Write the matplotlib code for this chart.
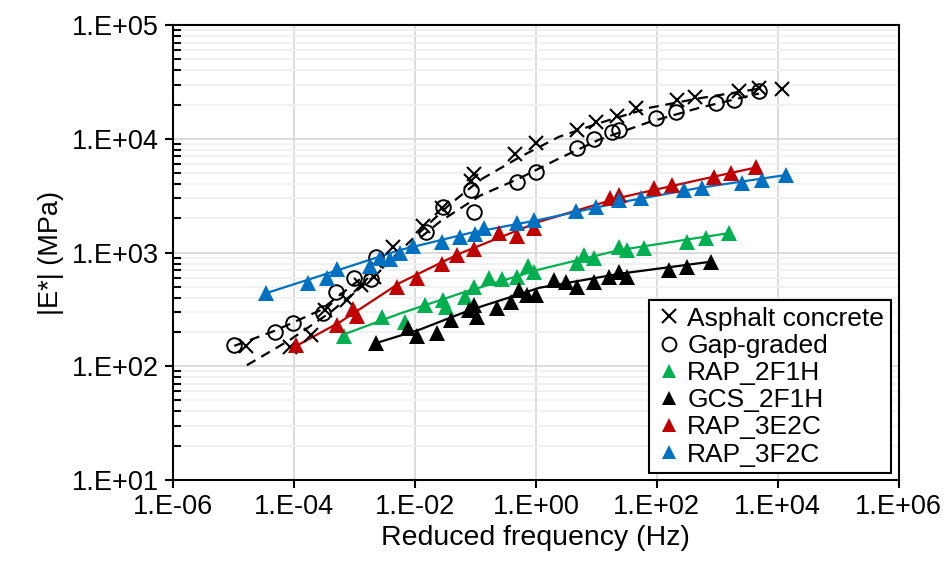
import numpy as np
import matplotlib
matplotlib.use('Agg')
import matplotlib.pyplot as plt
from matplotlib.ticker import FixedLocator, FuncFormatter, LogLocator, NullFormatter

plt.rcParams['font.family'] = ['Liberation Sans', 'DejaVu Sans']

# ---- measured points ----
ac_f = [1.6e-5, 8.5e-5, 1.9e-4, 3.2e-4, 7.4e-4, 1.3e-3, 2.1e-3, 4.3e-3, 0.0135, 0.028,
        0.086, 0.095, 0.46, 1.0, 4.8, 10, 22, 45, 215, 430, 2300, 4900, 11700]
ac_E = [151, 148, 190, 310, 380, 515, 605, 1120, 1700, 2450,
        4250, 4900, 7400, 9100, 12000, 14000, 16000, 18700, 21900, 23400, 26300, 28000, 27600]

gg_f = [1.0e-5, 4.8e-5, 9.5e-5, 3.0e-4, 4.9e-4, 9.8e-4, 1.9e-3, 2.3e-3, 0.0155, 0.029,
        0.085, 0.096, 0.49, 1.0, 4.8, 9.1, 18, 24, 98, 210, 960, 1900, 4900]
gg_E = [155, 200, 240, 295, 450, 600, 590, 910, 1520, 2500,
        3550, 2270, 4150, 5100, 8300, 10000, 11500, 12000, 15100, 17300, 20500, 21800, 26300]

r2f_f = [6.6e-4, 2.9e-3, 6.8e-3, 0.0145, 0.029, 0.033, 0.066, 0.096, 0.17, 0.28, 0.48,
         0.73, 0.94, 4.8, 6.3, 9.1, 24, 32, 62, 320, 650, 1550]
r2f_E = [185, 270, 245, 345, 380, 330, 405, 500, 600, 580, 610,
         760, 675, 810, 950, 900, 1120, 1050, 1100, 1230, 1350, 1480]

gcs_f = [2.3e-3, 7.6e-3, 0.011, 0.023, 0.040, 0.079, 0.096, 0.107, 0.23, 0.39, 0.53, 0.72,
         1.0, 2.0, 3.2, 4.8, 9.1, 16, 24, 32, 160, 315, 780]
gcs_E = [160, 215, 183, 195, 255, 310, 345, 270, 325, 365, 470, 425,
         425, 575, 550, 500, 550, 605, 675, 605, 700, 740, 830]

r3e_f = [1.07e-4, 5.2e-4, 9.3e-4, 1.1e-3, 5.0e-3, 0.0107, 0.028, 0.05, 0.096, 0.25, 0.48,
         0.94, 17, 24, 90, 180, 870, 1700, 4400]
r3e_E = [155, 230, 320, 275, 500, 600, 800, 950, 1070, 1480, 1410,
         1650, 3000, 3200, 3700, 3900, 4600, 5000, 5600]

r3f_f = [3.5e-5, 1.7e-4, 3.5e-4, 5.2e-4, 1.8e-3, 2.6e-3, 3.8e-3, 5.6e-3, 9.2e-3, 0.028, 0.055,
         0.1, 0.14, 0.48, 0.94, 4.6, 10, 24, 55, 280, 560, 2600, 5500, 13500]
r3f_E = [440, 540, 600, 720, 760, 890, 870, 1000, 1150, 1240, 1380,
         1450, 1650, 1830, 1940, 2300, 2500, 2900, 3000, 3550, 3700, 4100, 4350, 4800]

# ---- fitted master curves ----
ac_fit_f = [1.66e-5, 8.5e-5, 3.9e-4, 1.8e-3, 8.1e-3, 0.037, 0.12, 0.54, 2.4, 11, 74, 500, 5900]
ac_fit_E = [102, 170, 295, 575, 1240, 2630, 4350, 6900, 10400, 13700, 18700, 22700, 28000]

gg_fit_f = [1.03e-5, 4.8e-5, 2.7e-4, 1.2e-3, 5.6e-3, 0.026, 0.12, 0.54, 2.4, 11, 74, 500, 4900]
gg_fit_E = [151, 205, 310, 575, 960, 1870, 3170, 4500, 6700, 9800, 14000, 18700, 25000]

r2f_fit_f = [6.6e-4, 5.6e-3, 0.055, 1.15, 24, 500, 1550]
r2f_fit_E = [190, 290, 435, 710, 1050, 1350, 1480]

gcs_fit_f = [2.3e-3, 0.012, 0.079, 1.15, 24, 780]
gcs_fit_E = [160, 210, 310, 490, 650, 830]

r3e_fit_f = [1.07e-4, 5.8e-4, 5.6e-3, 0.055, 1.15, 24, 500, 4400]
r3e_fit_E = [150, 245, 540, 980, 1870, 3030, 4350, 5600]

r3f_fit_f = [3.5e-5, 5.8e-4, 5.6e-3, 0.079, 1.15, 24, 500, 13500]
r3f_fit_E = [440, 710, 1050, 1480, 1940, 2750, 3700, 4800]

fig = plt.figure(figsize=(9.51, 5.70), dpi=100)
ax = fig.add_axes([0.182, 0.158, 0.763, 0.798])

dash = (0, (4.5, 3))
ax.plot(ac_fit_f, ac_fit_E, color='black', lw=1.6, linestyle=dash, zorder=2)
ax.plot(gg_fit_f, gg_fit_E, color='black', lw=1.6, linestyle=dash, zorder=2)

ax.plot(ac_f, ac_E, 'x', color='black', ms=10, mew=1.5, label='Asphalt concrete', zorder=3)
ax.plot(gg_f, gg_E, 'o', mfc='none', mec='black', ms=10.5, mew=1.4, label='Gap-graded', zorder=3)

series = [
    (r2f_f, r2f_E, r2f_fit_f, r2f_fit_E, '#00B050', 'RAP_2F1H'),
    (gcs_f, gcs_E, gcs_fit_f, gcs_fit_E, '#000000', 'GCS_2F1H'),
    (r3e_f, r3e_E, r3e_fit_f, r3e_fit_E, '#C00000', 'RAP_3E2C'),
    (r3f_f, r3f_E, r3f_fit_f, r3f_fit_E, '#0070C0', 'RAP_3F2C'),
]
for f, E, ff, fE, col, name in series:
    ax.plot(ff, fE, '-', color=col, lw=1.6, zorder=2)
    ax.plot(f, E, '^', color=col, ms=11, mew=0, label=name, zorder=3)

ax.set_xscale('log')
ax.set_yscale('log')
ax.set_xlim(1e-6, 1e6)
ax.set_ylim(10, 1e5)

fmt = FuncFormatter(lambda v, p: '1.E{:+03d}'.format(int(round(np.log10(v)))))
ax.xaxis.set_major_locator(FixedLocator([10.0 ** k for k in range(-6, 7, 2)]))
ax.xaxis.set_minor_locator(FixedLocator([]))
ax.xaxis.set_major_formatter(fmt)
ax.yaxis.set_major_locator(FixedLocator([10.0 ** k for k in range(1, 6)]))
ax.yaxis.set_minor_locator(LogLocator(base=10, subs=np.arange(2, 10), numticks=20))
ax.yaxis.set_major_formatter(fmt)
ax.yaxis.set_minor_formatter(NullFormatter())

ax.tick_params(axis='both', which='major', labelsize=19.5, direction='out', length=6, width=1.5, pad=4)
ax.tick_params(axis='y', which='minor', direction='in', length=6, width=1.5)

ax.grid(True, which='major', color='#d9d9d9', lw=1.3, zorder=0)
ax.grid(True, which='minor', axis='y', color='#f0f0f0', lw=1.3, zorder=0)
ax.set_axisbelow(True)

for s in ax.spines.values():
    s.set_linewidth(1.5)
    s.set_color('black')

ax.set_xlabel('Reduced frequency (Hz)', fontsize=20.5, labelpad=4)
ax.set_ylabel('|E*| (MPa)', fontsize=19.5, labelpad=6)

leg = ax.legend(loc='lower right', bbox_to_anchor=(0.989, 0.015), borderaxespad=0,
                fontsize=19, frameon=True, fancybox=False, edgecolor='black',
                framealpha=1, handlelength=1.0, handletextpad=0.2, labelspacing=0.12,
                borderpad=0.25, markerscale=0.95)
leg.get_frame().set_linewidth(1.5)

fig.savefig('out.png', dpi=100)
